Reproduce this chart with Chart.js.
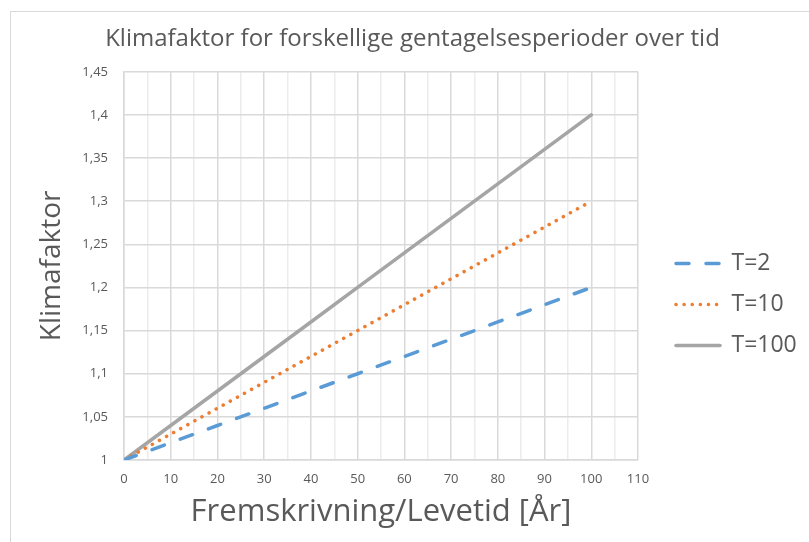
<!DOCTYPE html>
<html>
<head>
<meta charset="utf-8">
<script src="https://cdn.jsdelivr.net/npm/chart.js@4.4.1/dist/chart.umd.min.js"></script>
<style>
  html, body { margin: 0; padding: 0; background: #fff; overflow: hidden; }
  #wrap { position: relative; width: 809px; height: 542px; }
  #frame { position: absolute; left: 10px; top: 11px; width: 840px; height: 600px;
           border-left: 1px solid #d9d9d9; border-top: 1px solid #d9d9d9; }
  #mainChart { position: absolute; left: 0; top: 0; }
</style>
</head>
<body>
<div id="wrap">
  <div id="frame"></div>
  <canvas id="mainChart" width="809" height="542"></canvas>
</div>
<script>
// ---- data ----
const years = [0, 10, 20, 30, 40, 50, 60, 70, 80, 90, 100];
const t2    = [1.00, 1.02, 1.04, 1.06, 1.08, 1.10, 1.12, 1.14, 1.16, 1.18, 1.20];
const t10   = [1.00, 1.03, 1.06, 1.09, 1.12, 1.15, 1.18, 1.21, 1.24, 1.27, 1.30];
const t100  = [1.00, 1.04, 1.08, 1.12, 1.16, 1.20, 1.24, 1.28, 1.32, 1.36, 1.40];

const xTickLabels = ['0', '10', '20', '30', '40', '50', '60', '70', '80', '90', '100', '110'];
const yTickLabels = ['1', '1,05', '1,1', '1,15', '1,2', '1,25', '1,3', '1,35', '1,4', '1,45'];

const FONT = "'Open Sans', sans-serif";
const TXT = '#595959';
const GRID = '#d9d9d9';

function toPoints(ys) {
    return years.map((x, i) => ({ x: x, y: ys[i] }));
}

// pins the legend box: fixed width, items nudged right/down like the original
const legendSpot = {
    id: 'legendSpot',
    beforeUpdate(chart) {
        const lg = chart.legend;
        if (lg && !lg._pinned) {
            const fit = lg.fit;
            lg.fit = function () { fit.call(this); this.width = 171; };
            lg._pinned = true;
        }
    },
    afterLayout(chart) {
        const lg = chart.legend;
        lg.left += 20; lg.right += 20;
        lg.top += 234; lg.bottom += 234;
    }
};

// legend swatches should carry the dash pattern of the line itself
function legendLabels(chart) {
    const items = Chart.defaults.plugins.legend.labels.generateLabels(chart);
    items.forEach(it => {
        const ds = chart.data.datasets[it.datasetIndex];
        it.lineDash = ds.borderDash || [];
        it.lineCap = ds.borderCapStyle;
        it.lineWidth = ds.borderWidth;
        it.strokeStyle = ds.borderColor;
        it.pointStyle = 'line';
    });
    return items;
}

const ctx = document.getElementById('mainChart');

const chart = new Chart(ctx, {
    type: 'scatter',
    data: {
        datasets: [
            {
                label: 'T=2',
                data: toPoints(t2),
                showLine: true,
                borderColor: '#5B9BD5',
                backgroundColor: '#5B9BD5',
                borderWidth: 3.5,
                borderDash: [13, 17],
                borderCapStyle: 'round',
                pointRadius: 0
            },
            {
                label: 'T=10',
                data: toPoints(t10),
                showLine: true,
                borderColor: '#ED7D31',
                backgroundColor: '#ED7D31',
                borderWidth: 3.5,
                borderDash: [0.1, 8],
                borderCapStyle: 'round',
                pointRadius: 0
            },
            {
                label: 'T=100',
                data: toPoints(t100),
                showLine: true,
                borderColor: '#A5A5A5',
                backgroundColor: '#A5A5A5',
                borderWidth: 3.5,
                borderCapStyle: 'round',
                pointRadius: 0
            }
        ]
    },
    options: {
        responsive: false,
        devicePixelRatio: 1,
        animation: false,
        layout: { padding: { left: 16, right: 0, top: 0, bottom: 0 } },
        scales: {
            x: {
                type: 'linear',
                min: 0,
                max: 110,
                afterFit: s => { s.height = 82; },
                ticks: {
                    stepSize: 5,
                    autoSkip: false,
                    maxRotation: 0,
                    padding: 11,
                    color: TXT,
                    font: { family: FONT, size: 13 },
                    callback: v => (v % 10 === 0 ? xTickLabels[v / 10] : '')
                },
                grid: {
                    drawTicks: false,
                    color: c => (c.tick && c.tick.value % 10 !== 0 ? '#ececec' : GRID),
                    lineWidth: 1.5
                },
                border: { color: GRID, width: 1.5 },
                title: {
                    display: true,
                    text: 'Fremskrivning/Levetid [År]',
                    color: TXT,
                    font: { family: FONT, size: 31 },
                    padding: { top: 0, bottom: 11 }
                }
            },
            y: {
                min: 1,
                max: 1.45,
                afterFit: s => { s.width = 108; },
                ticks: {
                    stepSize: 0.05,
                    padding: 16,
                    color: TXT,
                    font: { family: FONT, size: 13 },
                    callback: (v, i) => yTickLabels[i]
                },
                grid: { drawTicks: false, color: GRID, lineWidth: 1.5 },
                border: { color: GRID, width: 1.5 },
                title: {
                    display: true,
                    text: 'Klimafaktor',
                    color: TXT,
                    font: { family: FONT, size: 28 },
                    padding: { top: 19, bottom: 0 }
                }
            }
        },
        plugins: {
            title: {
                display: true,
                text: 'Klimafaktor for forskellige gentagelsesperioder over tid',
                color: TXT,
                font: { family: FONT, size: 24, weight: 'normal' },
                padding: { top: 25, bottom: 18 }
            },
            legend: {
                position: 'right',
                align: 'start',
                labels: {
                    usePointStyle: true,
                    pointStyleWidth: 44,
                    color: TXT,
                    font: { family: FONT, size: 23 },
                    padding: 18,
                    generateLabels: legendLabels
                }
            },
            tooltip: { enabled: false }
        }
    },
    plugins: [legendSpot]
});
</script>
</body>
</html>
